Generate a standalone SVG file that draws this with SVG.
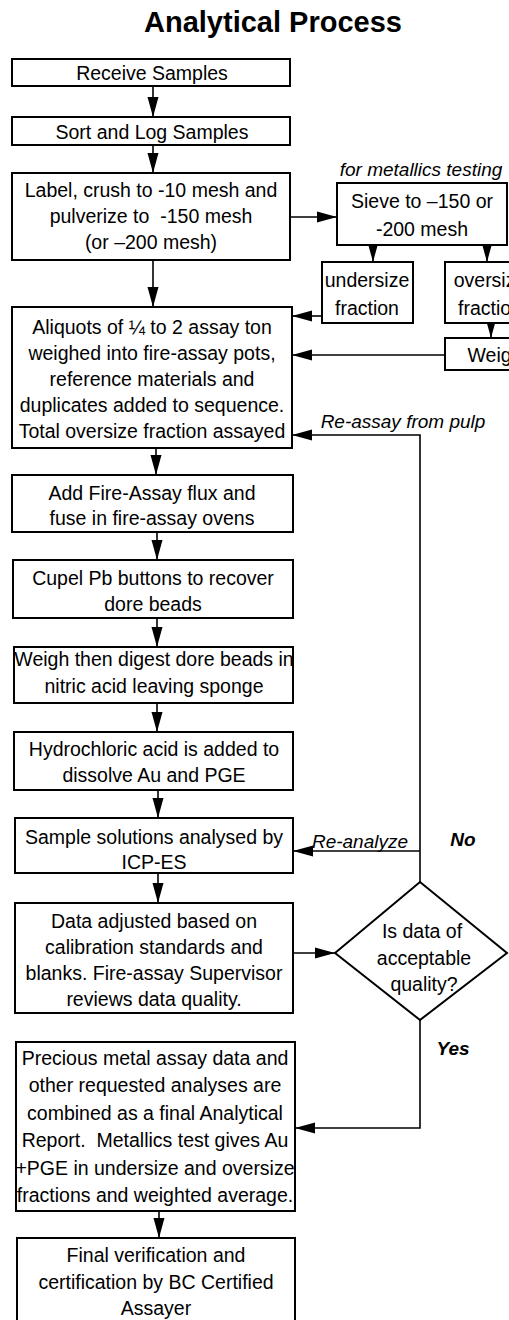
<svg xmlns="http://www.w3.org/2000/svg" width="509" height="1320" viewBox="0 0 509 1320">
<style>
.box{fill:#fff;stroke:#000;stroke-width:2}
.t{font-family:"Liberation Sans",Arial,sans-serif;font-size:19.5px;fill:#000;text-anchor:middle;white-space:pre}
.it{font-style:italic;font-size:19px}
.bi{font-style:italic;font-weight:bold;font-size:19px}
.conn{stroke:#000;stroke-width:1.6;fill:none;marker-end:url(#ah)}
.title{font-family:"Liberation Sans",Arial,sans-serif;font-size:29px;font-weight:bold;text-anchor:middle;fill:#000}
</style>
<defs>
<marker id="ah" markerUnits="userSpaceOnUse" markerWidth="20" markerHeight="12" refX="20" refY="6" orient="auto">
<path d="M0,0.5 L20,6 L0,11.5 z" fill="#000"/>
</marker>
</defs>
<rect width="509" height="1320" fill="#fff"/>
<text class="title" x="273" y="32">Analytical Process</text>

<g id="connectors">
<path class="conn" d="M153,86 V117"/>
<path class="conn" d="M153,145 V173"/>
<path class="conn" d="M153,260 V307"/>
<path class="conn" d="M156,448 V475"/>
<path class="conn" d="M157,532 V560"/>
<path class="conn" d="M157,618 V647"/>
<path class="conn" d="M157,703 V732"/>
<path class="conn" d="M158,790 V818"/>
<path class="conn" d="M158,873 V903"/>
<path class="conn" d="M159,1211 V1238"/>
<path class="conn" d="M290,217 H337"/>
<path class="conn" d="M373,245 V262"/>
<path class="conn" d="M487,245 V262"/>
<path class="conn" d="M491,323 V338"/>
<path class="conn" d="M322,316 H292"/>
<path class="conn" d="M445,355 H292"/>
<path class="conn" d="M293,953 H335"/>
<path class="conn" d="M420,882 V435 H292"/>
<path class="conn" d="M420,851 H293"/>
<path class="conn" d="M420,1020 V1128 H295"/>
</g>

<g id="receive">
<rect class="box" x="12" y="59" width="278" height="27"/>
<text class="t" x="152" y="80">Receive Samples</text>
</g>
<g id="sort">
<rect class="box" x="12" y="117" width="278" height="28"/>
<text class="t" x="152" y="139">Sort and Log Samples</text>
</g>
<g id="label">
<rect class="box" x="12" y="173" width="278" height="87"/>
<text class="t" x="151" y="197">Label, crush to -10 mesh and</text>
<text class="t" x="151" y="223">pulverize to  -150 mesh</text>
<text class="t" x="151" y="249">(or –200 mesh)</text>
</g>
<g id="metallics-label">
<text class="t it" x="421" y="176">for metallics testing</text>
</g>
<g id="sieve">
<rect class="box" x="337" y="183" width="170" height="62"/>
<text class="t" x="422" y="208">Sieve to –150 or</text>
<text class="t" x="422" y="236">-200 mesh</text>
</g>
<g id="undersize">
<rect class="box" x="322" y="262" width="91" height="61"/>
<text class="t" x="367" y="287">undersize</text>
<text class="t" x="367" y="315">fraction</text>
</g>
<g id="oversize">
<rect class="box" x="445" y="262" width="91" height="61"/>
<text class="t" x="490" y="287">oversize</text>
<text class="t" x="490" y="315">fraction</text>
</g>
<g id="weigh">
<rect class="box" x="445" y="338" width="100" height="32"/>
<text class="t" x="495" y="362">Weigh</text>
</g>
<g id="aliquots">
<rect class="box" x="12" y="307" width="280" height="141"/>
<text class="t" x="152" y="334">Aliquots of ¼ to 2 assay ton</text>
<text class="t" x="152" y="360">weighed into fire-assay pots,</text>
<text class="t" x="152" y="386">reference materials and</text>
<text class="t" x="152" y="412">duplicates added to sequence.</text>
<text class="t" x="152" y="438">Total oversize fraction assayed</text>
</g>
<g id="reassay-label">
<text class="t it" x="403" y="428">Re-assay from pulp</text>
</g>
<g id="flux">
<rect class="box" x="12" y="475" width="281" height="57"/>
<text class="t" x="152" y="500">Add Fire-Assay flux and</text>
<text class="t" x="152" y="525">fuse in fire-assay ovens</text>
</g>
<g id="cupel">
<rect class="box" x="13" y="560" width="280" height="58"/>
<text class="t" x="153" y="585">Cupel Pb buttons to recover</text>
<text class="t" x="153" y="611">dore beads</text>
</g>
<g id="digest">
<rect class="box" x="14" y="647" width="279" height="56"/>
<text class="t" x="154" y="666">Weigh then digest dore beads in</text>
<text class="t" x="154" y="693">nitric acid leaving sponge</text>
</g>
<g id="hcl">
<rect class="box" x="14" y="732" width="279" height="58"/>
<text class="t" x="154" y="756">Hydrochloric acid is added to</text>
<text class="t" x="154" y="782">dissolve Au and PGE</text>
</g>
<g id="icp">
<rect class="box" x="15" y="818" width="278" height="55"/>
<text class="t" x="154" y="844">Sample solutions analysed by</text>
<text class="t" x="154" y="869">ICP-ES</text>
</g>
<g id="reanalyze-label">
<text class="t it" x="360" y="848">Re-analyze</text>
</g>
<g id="no-label">
<text class="t bi" x="463" y="846">No</text>
</g>
<g id="data">
<rect class="box" x="15" y="903" width="278" height="110"/>
<text class="t" x="154" y="928">Data adjusted based on</text>
<text class="t" x="154" y="954">calibration standards and</text>
<text class="t" x="154" y="980">blanks. Fire-assay Supervisor</text>
<text class="t" x="154" y="1006">reviews data quality.</text>
</g>
<g id="decision">
<polygon class="box" points="335,953 420,882 507,953 420,1020"/>
<text class="t" x="422" y="938">Is data of</text>
<text class="t" x="424" y="965">acceptable</text>
<text class="t" x="424" y="991">quality?</text>
</g>
<g id="yes-label">
<text class="t bi" x="453" y="1055">Yes</text>
</g>
<g id="report">
<rect class="box" x="16" y="1042" width="279" height="169"/>
<text class="t" x="155" y="1065">Precious metal assay data and</text>
<text class="t" x="155" y="1092">other requested analyses are</text>
<text class="t" x="155" y="1120">combined as a final Analytical</text>
<text class="t" x="155" y="1147">Report.  Metallics test gives Au</text>
<text class="t" x="155" y="1175">+PGE in undersize and oversize</text>
<text class="t" x="155" y="1202">fractions and weighted average.</text>
</g>
<g id="final">
<rect class="box" x="17" y="1238" width="278" height="100"/>
<text class="t" x="156" y="1262">Final verification and</text>
<text class="t" x="156" y="1289">certification by BC Certified</text>
<text class="t" x="156" y="1315">Assayer</text>
</g>
</svg>
